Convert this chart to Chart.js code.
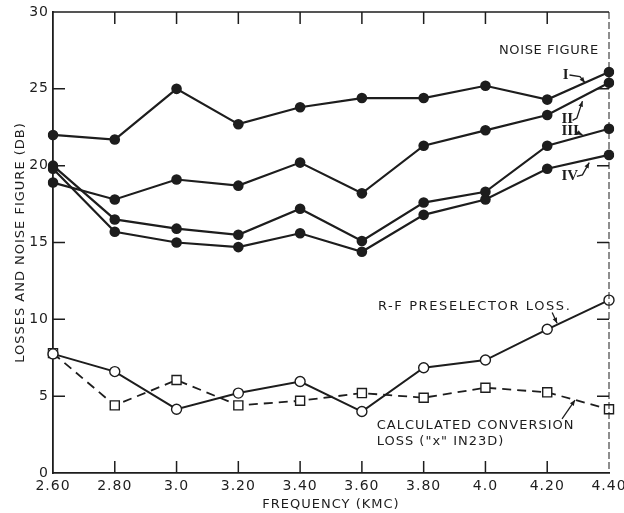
<!DOCTYPE html>
<html>
<head>
<meta charset="utf-8">
<script src="https://cdn.jsdelivr.net/npm/chart.js@4.4.1/dist/chart.umd.min.js"></script>
<style>
  html, body { margin: 0; padding: 0; background: #fff; }
  #wrap { width: 624px; height: 513px; }
</style>
</head>
<body>
<div id="wrap"><canvas id="nfChart"></canvas></div>
<script>
// frequency (kmc) tick labels
const freqLabels = ['2.60', '2.80', '3.0', '3.20', '3.40', '3.60', '3.80', '4.0', '4.20', '4.40'];
const yTicks = [0, 5, 10, 15, 20, 25, 30];

// noise figure curves I..IV (db)
const noiseI   = [22.0, 21.7, 25.0, 22.7, 23.8, 24.4, 24.4, 25.2, 24.3, 26.1];
const noiseII  = [18.9, 17.8, 19.1, 18.7, 20.2, 18.2, 21.3, 22.3, 23.3, 25.4];
const noiseIII = [20.0, 16.5, 15.9, 15.5, 17.2, 15.1, 17.6, 18.3, 21.3, 22.4];
const noiseIV  = [19.8, 15.7, 15.0, 14.7, 15.6, 14.4, 16.8, 17.8, 19.8, 20.7];

// losses (db)
const preselectorLoss = [7.75, 6.6, 4.15, 5.2, 5.95, 4.0, 6.85, 7.35, 9.35, 11.25];
const conversionLoss  = [7.8, 4.4, 6.05, 4.4, 4.7, 5.2, 4.9, 5.55, 5.25, 4.15];

const INK = '#1d1d1d';
const FONT = '"DejaVu Sans", sans-serif';
const ROMAN = 'bold 15px "Liberation Serif", serif';

// callout text, placed in axis units (x = category index, y = db)
const notes = [
    { text: 'NOISE FIGURE', x: 7.22, y: 27.5, font: '13px ' + FONT, spacing: '0.6px' },
    { text: 'I', x: 8.25, y: 25.9, font: ROMAN, spacing: '0px' },
    { text: 'II', x: 8.23, y: 23.0, font: ROMAN, spacing: '0px' },
    { text: 'III', x: 8.23, y: 22.25, font: ROMAN, spacing: '0px' },
    { text: 'IV', x: 8.23, y: 19.3, font: ROMAN, spacing: '0px' },
    { text: 'R-F PRESELECTOR LOSS.', x: 5.26, y: 10.85, font: '13px ' + FONT, spacing: '1.6px' },
    { text: 'CALCULATED CONVERSION', x: 5.24, y: 3.07, font: '13px ' + FONT },
    { text: 'LOSS ("x" IN23D)', x: 5.24, y: 2.03, font: '13px ' + FONT }
];

// leader lines from labels to their curves, arrow at the last point
const leaders = [
    [[8.36, 25.9], [8.53, 25.8], [8.61, 25.4]],
    [[8.41, 22.95], [8.48, 23.1], [8.57, 24.2]],
    [[8.45, 22.25], [8.57, 22.0]],
    [[8.48, 19.3], [8.57, 19.4], [8.68, 20.2]],
    [[8.08, 10.45], [8.16, 9.75]],
    [[8.24, 3.53], [8.45, 4.75]]
];

// frame, inward ticks and callouts
const framePlugin = {
    id: 'frame',
    beforeDraw(chart) {
        chart.ctx.letterSpacing = '1px';
    },
    afterDraw(chart) {
        const { ctx, chartArea: a, scales: { x, y } } = chart;
        ctx.save();
        ctx.strokeStyle = INK;
        ctx.lineWidth = 1.5;

        // top and right edges
        ctx.beginPath();
        ctx.moveTo(a.left, a.top);
        ctx.lineTo(a.right, a.top);
        ctx.stroke();
        ctx.save();
        ctx.lineWidth = 1;
        ctx.setLineDash([7, 3]);
        ctx.beginPath();
        ctx.moveTo(a.right, a.top);
        ctx.lineTo(a.right, a.bottom);
        ctx.stroke();
        ctx.restore();

        const tl = 12;
        ctx.beginPath();
        for (let i = 1; i < freqLabels.length - 1; i++) {
            const px = x.getPixelForValue(i);
            ctx.moveTo(px, a.bottom);
            ctx.lineTo(px, a.bottom - tl);
            ctx.moveTo(px, a.top);
            ctx.lineTo(px, a.top + tl);
        }
        yTicks.slice(1, -1).forEach(v => {
            const py = y.getPixelForValue(v);
            ctx.moveTo(a.left, py);
            ctx.lineTo(a.left + tl, py);
            ctx.moveTo(a.right, py);
            ctx.lineTo(a.right - tl, py);
        });
        ctx.stroke();

        // leaders
        ctx.lineWidth = 1.3;
        leaders.forEach(pts => {
            const p = pts.map(([vx, vy]) => [x.getPixelForValue(vx), y.getPixelForValue(vy)]);
            ctx.beginPath();
            ctx.moveTo(p[0][0], p[0][1]);
            for (let i = 1; i < p.length; i++) ctx.lineTo(p[i][0], p[i][1]);
            ctx.stroke();
            const [x1, y1] = p[p.length - 2];
            const [x2, y2] = p[p.length - 1];
            const ang = Math.atan2(y2 - y1, x2 - x1);
            ctx.beginPath();
            ctx.moveTo(x2, y2);
            ctx.lineTo(x2 - 6 * Math.cos(ang - 0.4), y2 - 6 * Math.sin(ang - 0.4));
            ctx.lineTo(x2 - 6 * Math.cos(ang + 0.4), y2 - 6 * Math.sin(ang + 0.4));
            ctx.closePath();
            ctx.fillStyle = INK;
            ctx.fill();
        });

        // callout text
        ctx.fillStyle = INK;
        ctx.textAlign = 'left';
        ctx.textBaseline = 'middle';
        notes.forEach(n => {
            ctx.font = n.font;
            ctx.letterSpacing = n.spacing || '1px';
            ctx.fillText(n.text, x.getPixelForValue(n.x), y.getPixelForValue(n.y));
        });
        ctx.restore();
    }
};

function noiseSet(label, data) {
    return {
        label: label,
        data: data,
        borderColor: INK,
        backgroundColor: INK,
        borderWidth: 2.2,
        pointRadius: 5.3,
        pointBorderWidth: 0,
        pointStyle: 'circle',
        tension: 0
    };
}

const ctx = document.getElementById('nfChart').getContext('2d');
new Chart(ctx, {
    type: 'line',
    data: {
        labels: freqLabels,
        datasets: [
            noiseSet('I', noiseI),
            noiseSet('II', noiseII),
            noiseSet('III', noiseIII),
            noiseSet('IV', noiseIV),
            {
                label: 'R-F preselector loss',
                data: preselectorLoss,
                borderColor: INK,
                backgroundColor: '#fff',
                borderWidth: 2,
                pointRadius: 5,
                pointBorderWidth: 1.4,
                pointStyle: 'circle'
            },
            {
                label: 'Calculated conversion loss',
                data: conversionLoss,
                borderColor: INK,
                backgroundColor: '#fff',
                borderWidth: 1.8,
                borderDash: [9, 6],
                pointRadius: 6.4,
                pointBorderWidth: 1.4,
                pointStyle: 'rect'
            }
        ]
    },
    options: {
        responsive: true,
        maintainAspectRatio: false,
        animation: false,
        layout: { padding: { top: 12, right: 15, left: 0, bottom: 0 } },
        plugins: {
            legend: { display: false },
            tooltip: { enabled: false }
        },
        scales: {
            x: {
                type: 'category',
                offset: false,
                grid: { display: false, drawTicks: false },
                border: { display: true, color: INK, width: 1.8 },
                ticks: {
                    color: INK,
                    font: { family: FONT, size: 14 },
                    padding: 5,
                    maxRotation: 0,
                    autoSkip: false
                },
                title: {
                    display: true,
                    text: 'FREQUENCY (KMC)',
                    color: INK,
                    font: { family: FONT, size: 13 },
                    padding: { top: 0, bottom: 1 }
                },
                afterFit(scale) {
                    scale.height = 40;
                    // let the end labels hang past the plot edges
                    scale.paddingLeft = 0;
                    scale.paddingRight = 0;
                }
            },
            y: {
                min: 0,
                max: 30,
                grid: { display: false, drawTicks: false },
                border: { display: true, color: INK, width: 1.8 },
                ticks: {
                    stepSize: 5,
                    color: INK,
                    font: { family: FONT, size: 14 },
                    padding: 4
                },
                title: {
                    display: true,
                    text: 'LOSSES AND NOISE FIGURE (DB)',
                    color: INK,
                    font: { family: FONT, size: 13 },
                    padding: { top: 13, bottom: 0 }
                },
                afterFit(scale) {
                    scale.width = 53;
                    scale.paddingTop = 0;
                    scale.paddingBottom = 0;
                }
            }
        }
    },
    plugins: [framePlugin]
});
</script>
</body>
</html>
